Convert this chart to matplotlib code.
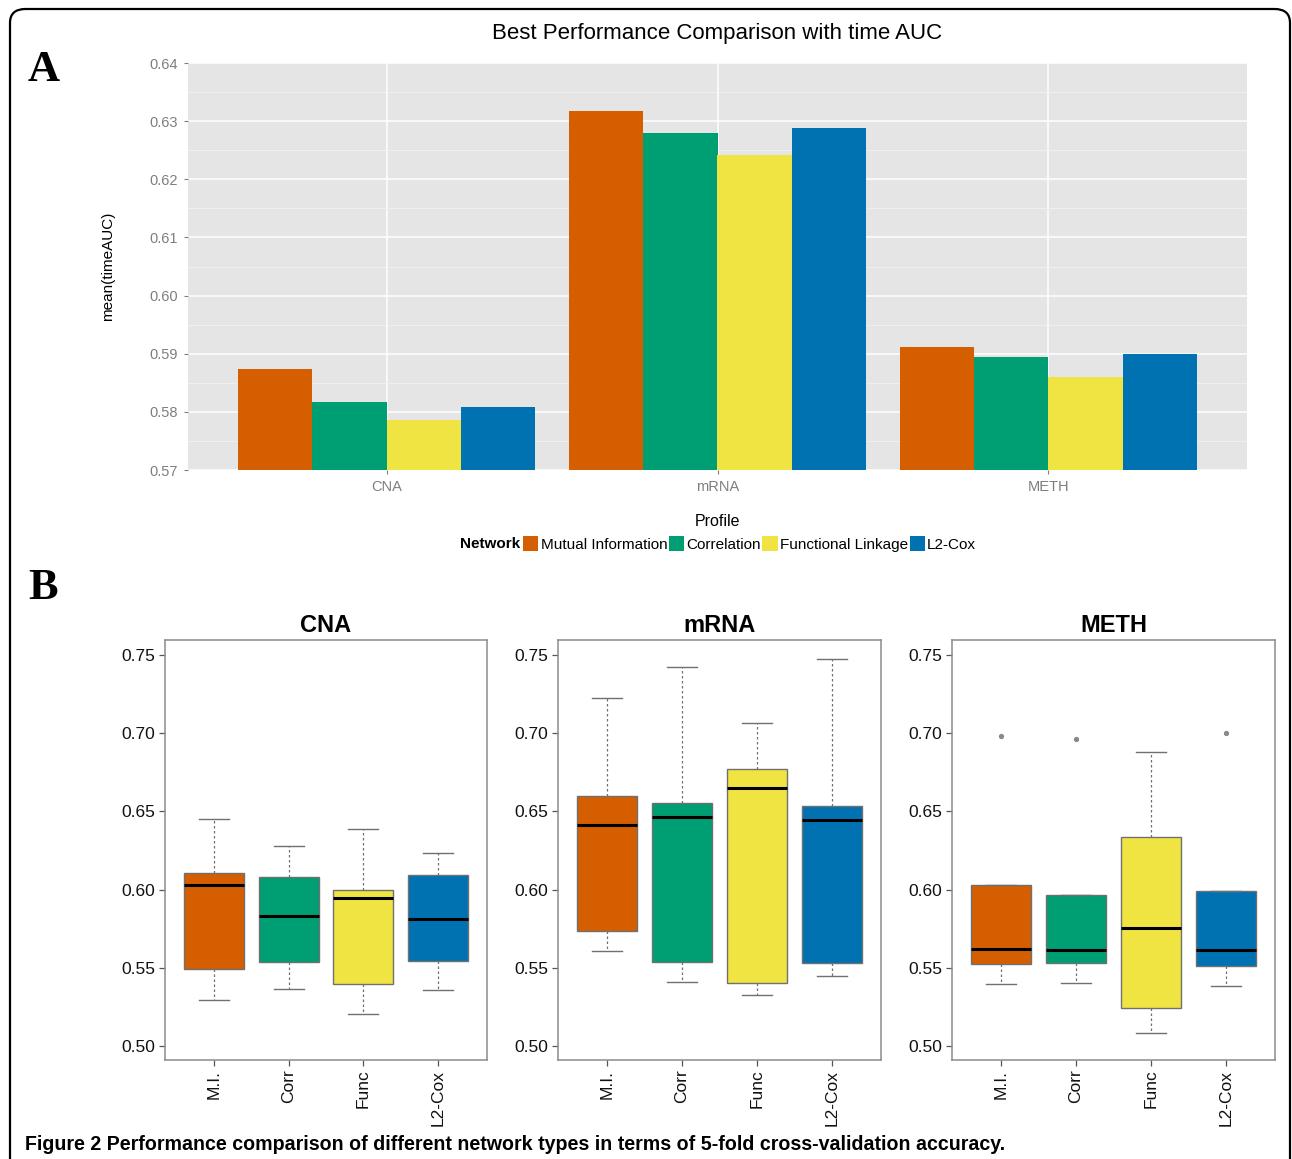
import matplotlib
matplotlib.use("Agg")
import matplotlib.pyplot as plt
from matplotlib.patches import FancyBboxPatch, Patch
import numpy as np

# ---------------- data ----------------
profiles = ["CNA", "mRNA", "METH"]
networks = ["Mutual Information", "Correlation", "Functional Linkage", "L2-Cox"]
short_names = ["M.I.", "Corr", "Func", "L2-Cox"]
colors = ["#D55E00", "#009E73", "#F0E442", "#0072B2"]

# mean(timeAUC) per network, ordered by profile (CNA, mRNA, METH)
mi_auc = [0.5874, 0.6317, 0.5912]
corr_auc = [0.5817, 0.6280, 0.5894]
func_auc = [0.5786, 0.6242, 0.5860]
l2cox_auc = [0.5808, 0.6288, 0.5899]

# box stats: [whisker low, Q1, median, Q3, whisker high] per network
cna_stats = [
    [0.5294, 0.5494, 0.6032, 0.6104, 0.6450],
    [0.5361, 0.5537, 0.5831, 0.6078, 0.6277],
    [0.5206, 0.5396, 0.5948, 0.5994, 0.6387],
    [0.5357, 0.5545, 0.5812, 0.6093, 0.6232],
]
mrna_stats = [
    [0.5610, 0.5738, 0.6411, 0.6597, 0.7225],
    [0.5411, 0.5537, 0.6463, 0.6554, 0.7424],
    [0.5325, 0.5400, 0.6652, 0.6771, 0.7063],
    [0.5448, 0.5528, 0.6446, 0.6537, 0.7474],
]
meth_stats = [
    [0.5396, 0.5524, 0.5621, 0.6030, 0.6030],
    [0.5400, 0.5530, 0.5613, 0.5963, 0.5963],
    [0.5084, 0.5245, 0.5753, 0.6338, 0.6879],
    [0.5381, 0.5511, 0.5615, 0.5989, 0.5989],
]
cna_outliers = [[], [], [], []]
mrna_outliers = [[], [], [], []]
meth_outliers = [[0.6983], [0.6963], [], [0.7000]]

# ---------------- figure ----------------
W, H = 1292, 1159
fig = plt.figure(figsize=(W / 100, H / 100), dpi=100)
fig.patch.set_facecolor("white")


def px_axes(x0, y0, x1, y1):
    return fig.add_axes([x0 / W, 1 - y1 / H, (x1 - x0) / W, (y1 - y0) / H])


def fx(x):
    return x / W


def fy(y):
    return 1 - y / H


SANS = ["Liberation Sans", "DejaVu Sans"]

# outer rounded frame
frame = FancyBboxPatch((fx(10), fy(1185)), fx(1290) - fx(10), fy(9) - fy(1185),
                       boxstyle="round,pad=0,rounding_size=0.012",
                       transform=fig.transFigure, fill=False, lw=1.6,
                       edgecolor="black", clip_on=False)
fig.patches.append(frame)

# ---------------- panel A ----------------
axA = px_axes(188, 63, 1247, 470)
axA.set_facecolor("#E5E5E5")
x = np.arange(1, len(profiles) + 1)
series = [mi_auc, corr_auc, func_auc, l2cox_auc]
bw = 0.9 / 4
for i, (vals, c) in enumerate(zip(series, colors)):
    axA.bar(x + (i - 1.5) * bw, vals, width=bw, color=c, zorder=3)
axA.set_xlim(0.4, 3.6)
axA.set_ylim(0.57, 0.64)
axA.set_yticks(np.arange(0.57, 0.6401, 0.01))
axA.set_yticks(np.arange(0.575, 0.64, 0.01), minor=True)
axA.set_yticklabels(["%.2f" % v for v in np.arange(0.57, 0.6401, 0.01)])
axA.set_xticks(x)
axA.set_xticklabels(profiles)
axA.grid(True, which="major", color="white", lw=1.1, zorder=1)
axA.grid(True, which="minor", axis="y", color="#F2F2F2", lw=0.6, zorder=1)
axA.tick_params(axis="both", which="major", colors="#7F7F7F", labelsize=10.5,
                length=3, width=0.8, pad=4)
axA.tick_params(axis="y", which="minor", length=0)
for lab in axA.get_xticklabels() + axA.get_yticklabels():
    lab.set_family(SANS)
for s in axA.spines.values():
    s.set_visible(False)
axA.set_ylabel("mean(timeAUC)", fontsize=11, family=SANS)
axA.yaxis.set_label_coords((115 - 188) / (1247 - 188), 0.5)

fig.text(fx(717), fy(34), "Best Performance Comparison with time AUC",
         ha="center", va="center", fontsize=16, family=SANS)
fig.text(fx(717), fy(522), "Profile", ha="center", va="center",
         fontsize=11.5, family=SANS)
fig.text(fx(44), fy(70), "A", ha="center", va="center", fontsize=32,
         family=["Liberation Serif", "DejaVu Serif"], fontweight="bold")
fig.text(fx(43), fy(588), "B", ha="center", va="center", fontsize=32,
         family=["Liberation Serif", "DejaVu Serif"], fontweight="bold")

# legend
fig.text(fx(520), fy(544), "Network", ha="right", va="center", fontsize=11,
         fontweight="bold", family=SANS)
handles = [Patch(facecolor=c, edgecolor="none") for c in colors]
fig.legend(handles, networks, loc="center left",
           bbox_to_anchor=(fx(523), fy(544)), ncol=4, frameon=False,
           handlelength=1.0, handleheight=1.1, handletextpad=0.15,
           columnspacing=0.1, borderpad=0, borderaxespad=0,
           prop={"family": SANS, "size": 11})

# ---------------- panel B ----------------
panel_px = [(165, 487), (558, 881), (952, 1275)]
all_stats = [cna_stats, mrna_stats, meth_stats]
all_out = [cna_outliers, mrna_outliers, meth_outliers]
edge = "#707070"
for (x0, x1), name, st, outl in zip(panel_px, profiles, all_stats, all_out):
    ax = px_axes(x0, 640, x1, 1060)
    bstats = []
    for s, o in zip(st, outl):
        bstats.append(dict(whislo=s[0], q1=s[1], med=s[2], q3=s[3],
                           whishi=s[4], fliers=o))
    bp = ax.bxp(bstats, positions=[1, 2, 3, 4], widths=0.8, patch_artist=True,
                capwidths=0.4,
                boxprops=dict(edgecolor=edge, lw=1.0),
                medianprops=dict(color="black", lw=2.2),
                whiskerprops=dict(color=edge, lw=0.9, linestyle=(0, (2, 2))),
                capprops=dict(color=edge, lw=1.0),
                flierprops=dict(marker="o", markersize=2.8,
                                markerfacecolor="#8a8a8a",
                                markeredgecolor="#8a8a8a"))
    for patch, c in zip(bp["boxes"], colors):
        patch.set_facecolor(c)
    ax.set_xlim(0.34, 4.66)
    ax.set_ylim(0.4910, 0.7596)
    ax.set_yticks([0.50, 0.55, 0.60, 0.65, 0.70, 0.75])
    ax.set_yticklabels(["0.50", "0.55", "0.60", "0.65", "0.70", "0.75"])
    ax.set_xticks([1, 2, 3, 4])
    ax.set_xticklabels(short_names, rotation=90)
    ax.tick_params(axis="both", colors="#555555", labelcolor="#111111",
                   labelsize=12.5, length=4, width=0.9, pad=3)
    for lab in ax.get_xticklabels() + ax.get_yticklabels():
        lab.set_family(SANS)
    for s in ax.spines.values():
        s.set_color("#8c8c8c")
        s.set_linewidth(1.1)
    fig.text(fx((x0 + x1) / 2), fy(625), name, ha="center", va="center",
             fontsize=17, fontweight="bold", family=SANS)

# caption
fig.text(fx(25), fy(1144),
         "Figure 2 Performance comparison of different network types in terms of 5-fold cross-validation accuracy.",
         ha="left", va="center", fontsize=14.1, fontweight="bold",
         family=["Liberation Sans Narrow", "Liberation Sans", "DejaVu Sans"])

fig.savefig("out.png", dpi=100)
